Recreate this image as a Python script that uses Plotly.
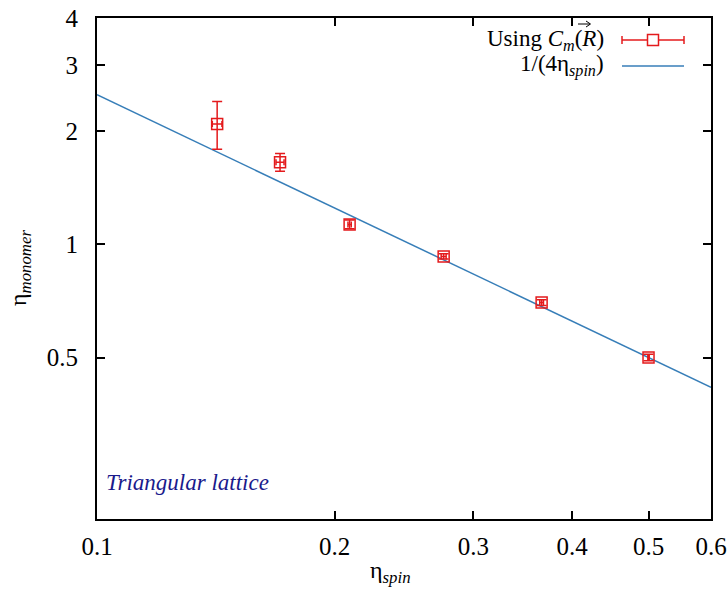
import plotly.graph_objects as go

# data
eta_spin = [0.142, 0.1706, 0.209, 0.275, 0.366, 0.5]
eta_monomer = [2.09, 1.654, 1.13, 0.929, 0.70, 0.50]
err_y_plus = [0.31, 0.09, 0.03, 0.015, 0.012, 0.01]
err_y_minus = [0.30, 0.09, 0.03, 0.015, 0.012, 0.01]
err_x = [0.002, 0.002, 0.001, 0.002, 0.002, 0.001]
line_x = [0.1, 0.6]
line_y = [2.5, 0.41667]
x_ticks = [0.1, 0.2, 0.3, 0.4, 0.5, 0.6]
x_ticktext = ["0.1", "0.2", "0.3", "0.4", "0.5", "0.6"]
y_ticks = [0.5, 1, 2, 3, 4]
y_ticktext = ["0.5", "1", "2", "3", "4"]

RED = "#e41a1c"
BLUE = "#377eb8"
FONT = "Liberation Serif"

fig = go.Figure()
fig.add_trace(go.Scatter(
    x=line_x, y=line_y, mode="lines",
    line=dict(color=BLUE, width=1.5), showlegend=False, hoverinfo="skip"))
fig.add_trace(go.Scatter(
    x=eta_spin, y=eta_monomer, mode="markers",
    marker=dict(symbol="square-open", size=11, color=RED, line=dict(width=1.5, color=RED)),
    error_y=dict(type="data", symmetric=False, array=err_y_plus, arrayminus=err_y_minus,
                 color=RED, thickness=1.5, width=5),
    error_x=dict(type="data", array=err_x, color=RED, thickness=1.5, width=3),
    showlegend=False))

# plot area in pixels: x 97..711, y 18..519
PW, PH = 614.0, 501.0
def px(xp):
    return (xp - 97) / PW
def py(yp):
    return (519 - yp) / PH

ly1, ly2 = py(40), py(66)
kx0, kx1, kxc = px(622), px(684), px(653)
cap = 4 / PH
hs_x, hs_y = 5.5 / PW, 5.5 / PH
shapes = [
    dict(type="line", xref="paper", yref="paper", x0=kx0, x1=kx1, y0=ly1, y1=ly1,
         line=dict(color=RED, width=1.5)),
    dict(type="line", xref="paper", yref="paper", x0=kx0, x1=kx0, y0=ly1 - cap, y1=ly1 + cap,
         line=dict(color=RED, width=1.5)),
    dict(type="line", xref="paper", yref="paper", x0=kx1, x1=kx1, y0=ly1 - cap, y1=ly1 + cap,
         line=dict(color=RED, width=1.5)),
    dict(type="rect", xref="paper", yref="paper", x0=kxc - hs_x, x1=kxc + hs_x,
         y0=ly1 - hs_y, y1=ly1 + hs_y, line=dict(color=RED, width=1.5), fillcolor="white"),
    dict(type="line", xref="paper", yref="paper", x0=kx0, x1=kx1, y0=ly2, y1=ly2,
         line=dict(color=BLUE, width=1.5)),
    # vector arrow over R in the legend label
    dict(type="line", xref="paper", yref="paper", x0=px(578), x1=px(590), y0=py(24), y1=py(24),
         line=dict(color="black", width=1)),
    dict(type="path", xref="paper", yref="paper",
         path=f"M {px(586)},{py(21)} L {px(590.5)},{py(24)} L {px(586)},{py(27)}",
         line=dict(color="black", width=1)),
]

annotations = [
    dict(xref="paper", yref="paper", x=px(606), y=ly1, xanchor="right", yanchor="middle",
         text="Using <i>C<sub>m</sub></i>(<i>R</i>)", showarrow=False,
         font=dict(family=FONT, size=23, color="black")),
    dict(xref="paper", yref="paper", x=px(606), y=ly2, xanchor="right", yanchor="middle",
         text="1/(4η<sub><i>spin</i></sub>)", showarrow=False,
         font=dict(family=FONT, size=23, color="black")),
    dict(xref="paper", yref="paper", x=px(104), y=py(482), xanchor="left", yanchor="middle",
         text="<i>Triangular lattice</i>", showarrow=False,
         font=dict(family=FONT, size=23, color="#1a1a8c")),
    dict(xref="paper", yref="paper", x=px(390), y=py(572), xanchor="center", yanchor="middle",
         text="η<sub><i>spin</i></sub>", showarrow=False,
         font=dict(family=FONT, size=24, color="black")),
    dict(xref="paper", yref="paper", x=px(20), y=py(268), xanchor="center", yanchor="middle",
         text="η<sub><i>monomer</i></sub>", showarrow=False, textangle=-90,
         font=dict(family=FONT, size=24, color="black")),
]

fig.update_layout(
    width=728, height=589,
    margin=dict(l=97, r=17, t=18, b=70, autoexpand=False),
    paper_bgcolor="white", plot_bgcolor="white",
    font=dict(family=FONT, size=25, color="black"),
    shapes=shapes, annotations=annotations,
    xaxis=dict(type="log", range=[-1, -0.22185], tickvals=x_ticks, ticktext=x_ticktext,
               ticks="inside", ticklen=8, tickwidth=1.5, tickcolor="black",
               showline=True, linecolor="black", linewidth=2, mirror="ticks",
               showgrid=False, zeroline=False, automargin=False,
               ticklabelstandoff=4),
    yaxis=dict(type="log", range=[-0.7305, 0.60206], tickvals=y_ticks, ticktext=y_ticktext,
               ticks="inside", ticklen=8, tickwidth=1.5, tickcolor="black",
               showline=True, linecolor="black", linewidth=2, mirror="ticks",
               showgrid=False, zeroline=False, automargin=False,
               ticklabelstandoff=12),
)

fig.write_html("out.html", config={"displayModeBar": False},
               post_script="document.body.style.margin='0px';")
